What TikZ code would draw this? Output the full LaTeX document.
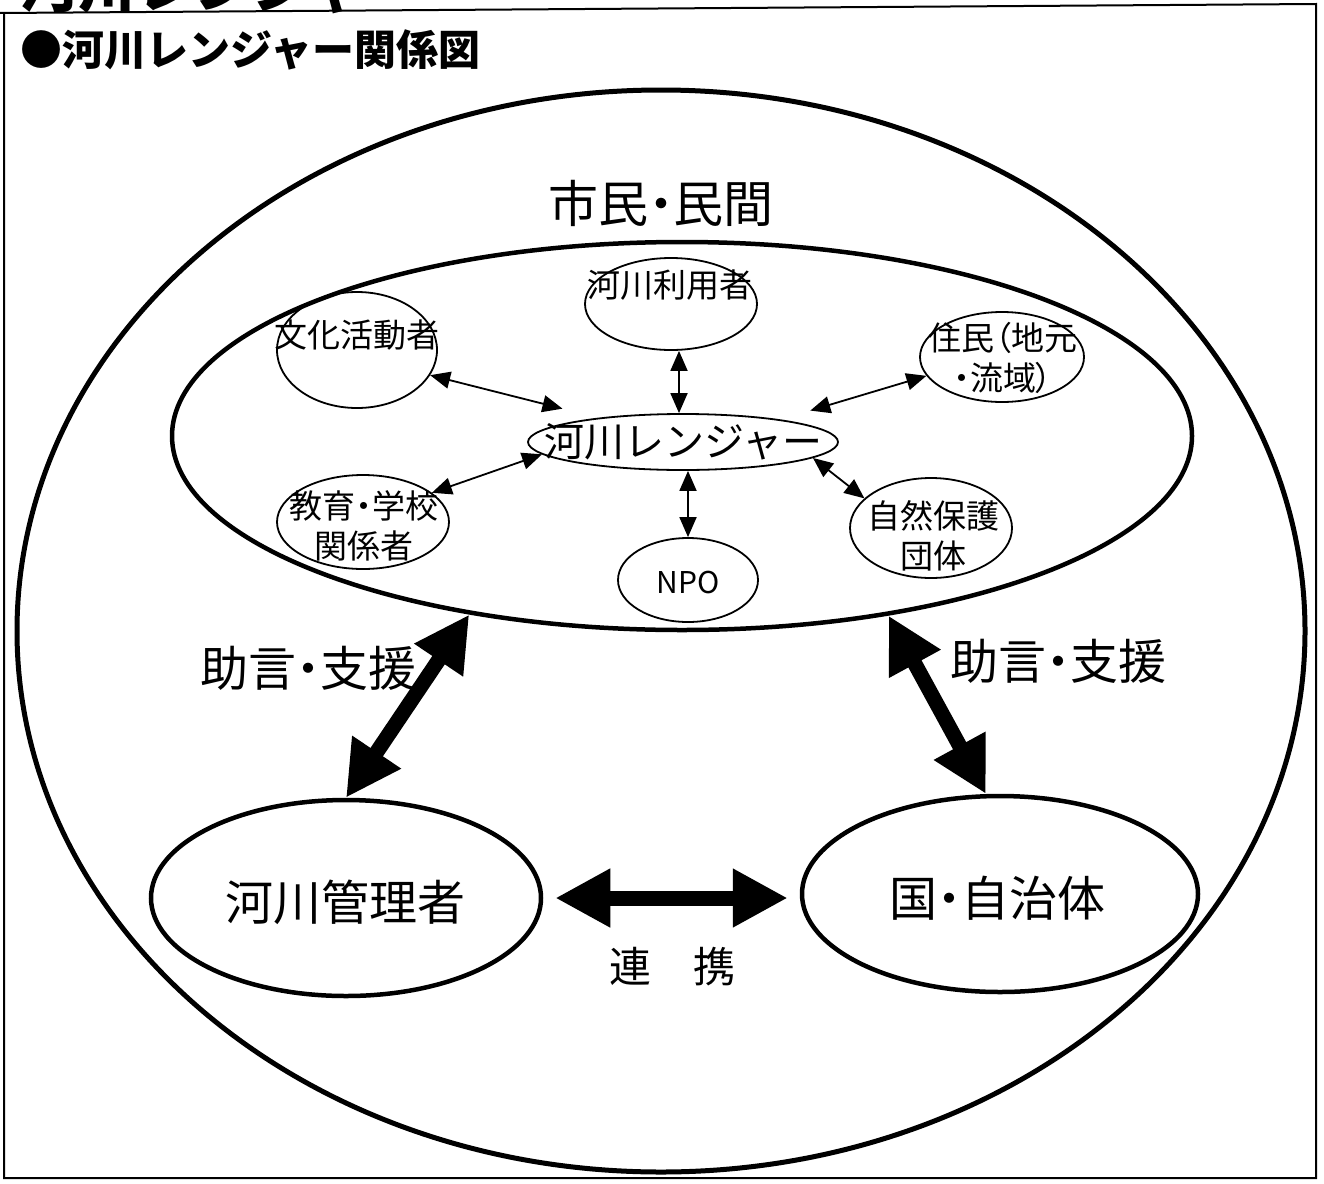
\documentclass[tikz,border=0pt]{standalone}
\usepackage{fontspec}
\setmainfont{Noto Sans CJK JP}
\newfontfamily\jpp[RawFeature=+palt]{Noto Sans CJK JP}
\usetikzlibrary{shapes.geometric,arrows.meta}
\newcommand\fsz[1]{\fontsize{#1pt}{#1pt}\selectfont}
\newcommand\fszb[2]{\fontsize{#1pt}{#2pt}\selectfont}
\begin{document}
\begin{tikzpicture}[x=1pt,y=-1pt,
  ell/.style={ellipse, draw, inner sep=0pt, line width=1.8pt},
  bigell/.style={ellipse, draw, inner sep=0pt, line width=4.5pt},
  lbl/.style={inner sep=0pt, align=center},
  sarr/.style={{Triangle[length=20pt,width=17pt]}-{Triangle[length=20pt,width=17pt]}, line width=1.8pt},
  barr/.style={{Triangle[length=55pt,width=55pt]}-{Triangle[length=55pt,width=55pt]}, line width=15pt},
  frame/.style={line width=2pt}]
\useasboundingbox (0,0) rectangle (1324,1183);
\fill[white] (0,0) rectangle (1324,1183);
% frame
\draw[frame] (0,13) -- (1316,4) -- (1316,1178) -- (4,1178) -- (4,13);
% cropped heading
\node[lbl, anchor=base west, font=\fsz{58}\bfseries] (head) at (20,7) {河川レンジャー};
\node[lbl, anchor=west, font=\fsz{42}\bfseries] (title) at (20,50) {●河川レンジャー関係図};
% outer circle and inner ellipse
\node[ellipse, draw, inner sep=0pt, line width=5pt, minimum width=1288pt, minimum height=1082pt] (outer) at (661,631) {};
\node[bigell, minimum width=1020pt, minimum height=388pt] (shimin) at (682,436) {};
\node[lbl, font=\jpp\fsz{50}] (shiminlbl) at (661,203) {市民・民間};
% small ellipses
\node[ell, minimum width=160pt, minimum height=116pt] (bunka) at (357,350) {};
\node[ell, minimum width=172pt, minimum height=92pt] (riyo) at (671,304) {};
\node[ell, minimum width=164pt, minimum height=90pt] (jumin) at (1002,357) {};
\node[ell, minimum width=172pt, minimum height=94pt] (kyoiku) at (363,522) {};
\node[ell, minimum width=140pt, minimum height=84pt] (npo) at (688,580) {};
\node[ell, minimum width=162pt, minimum height=100pt] (shizen) at (931,528) {};
\node[ell, minimum width=310pt, minimum height=56pt] (ranger) at (683,442) {};
% small labels
\node[lbl, font=\fsz{33}] (bunkalbl) at (357,335) {文化活動者};
\node[lbl, font=\fsz{33}] (riyolbl) at (670,285) {河川利用者};
\node[lbl, font=\jpp\fszb{33}{40}] (juminlbl) at (1003,358) {住民（地元\\・流域）};
\node[lbl, font=\jpp\fszb{33}{40}] (kyoikulbl) at (364,526) {教育・学校\\関係者};
\node[lbl, font=\fszb{33}{40}] (shizenlbl) at (933,536) {自然保護\\団体};
\node[lbl, font=\fsz{30}] (npolbl) at (688,582) {NPO};
\node[lbl, font=\fsz{40}] (rangerlbl) at (683,442) {河川レンジャー};
% bottom ellipses
\node[bigell, minimum width=390pt, minimum height=196pt] (kanri) at (346,898) {};
\node[bigell, minimum width=396pt, minimum height=196pt] (jichi) at (1000,894) {};
\node[lbl, font=\fsz{48}] (kanrilbl) at (345,902) {河川管理者};
\node[lbl, font=\jpp\fsz{48}] (jichilbl) at (997,898) {国・自治体};
% big labels
\node[lbl, font=\jpp\fsz{48}] (jogenL) at (308,668) {助言・支援};
\node[lbl, font=\jpp\fsz{48}] (jogenR) at (1058,661) {助言・支援};
\node[lbl, font=\fsz{42}] (renkei) at (672,967) {連　携};
% small arrows
\draw[sarr, shorten >=37pt] (bunka.-19) -- (ranger.164);
\draw[sarr] ([xshift=8pt]riyo.south) -- ([xshift=8pt]riyo.south |- ranger.north);
\draw[sarr, shorten >=31pt] (jumin.194) -- (ranger.13);
\draw[sarr] (kyoiku.23) -- (ranger.185);
\draw[sarr] (npo.north) -- (npo.north |- ranger.south);
\draw[sarr] (ranger.-7) -- (shizen.156);
% big arrows
\draw[barr] (shimin.220) -- (kanri.north);
\draw[barr] (shimin.-41) -- (jichi.98);
\draw[barr, shorten <=12pt, shorten >=12pt] (kanri.east) -- (kanri.east -| jichi.west);
\end{tikzpicture}
\end{document}
